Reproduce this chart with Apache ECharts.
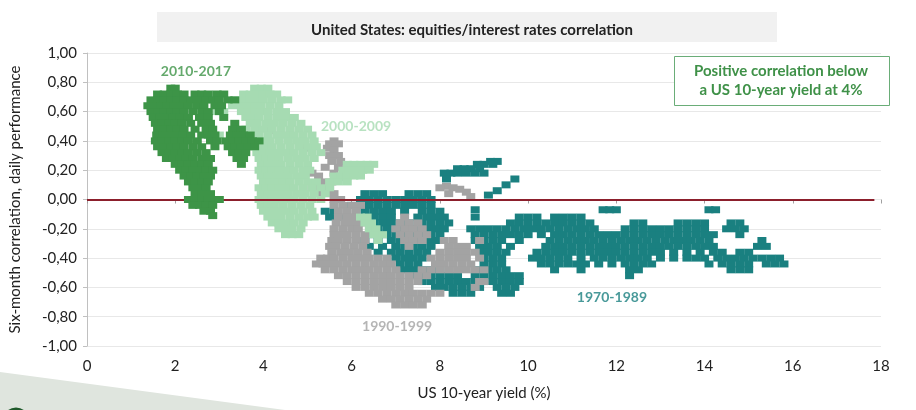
<!DOCTYPE html>
<html>
<head>
<meta charset="utf-8">
<script src="https://cdn.jsdelivr.net/npm/echarts@6/dist/echarts.min.js"></script>
<style>
  html, body { margin: 0; padding: 0; background: #fff; }
  #chart { width: 916px; height: 410px; }
</style>
</head>
<body>
<div id="chart"></div>
<script>
// each row: [correlation, [yields...]]
const rows1970 = [
  [0.26, [9.15, 9.3]], [0.24, [8.85, 9.0, 9.2]], [0.21, [8.4, 8.55, 8.7, 8.9]],
  [0.18, [8.1, 8.25, 8.4, 8.6, 8.8, 9.0]], [0.14, [8.15, 9.7]], [0.10, [9.5]], [0.06, [9.3]], [0.03, [9.1]],
  [0.04, [6.3, 6.5, 6.7, 7.3, 7.5, 7.7]],
  [0.00, [6.2, 6.4, 6.6, 6.8, 7.0, 7.2, 7.4, 7.6, 7.8]],
  [-0.04, [6.0, 6.2, 6.4, 6.6, 6.8, 7.0, 7.2, 7.4, 7.6, 7.8]],
  [-0.07, [11.7, 11.85, 12.0, 14.1, 14.25, 8.8]],
  [-0.08, [5.4, 5.6, 6.3, 6.5, 6.7, 6.9, 7.2, 7.6, 7.8, 8.0]],
  [-0.12, [5.5, 5.7, 6.5, 6.7, 6.9, 7.5, 7.7, 7.9, 8.1, 8.8, 9.8, 10.0, 10.2, 10.6, 10.8, 11.0, 11.2]],
  [-0.16, [6.5, 6.7, 6.9, 7.1, 7.3, 7.6, 7.8, 8.0, 8.2, 9.6, 9.8, 10.0, 10.2, 10.4, 10.6, 10.8, 11.0, 11.2, 11.4, 12.4, 12.6, 13.4, 13.6, 13.8, 14.0, 14.6, 14.8]],
  [-0.20, [6.6, 6.8, 7.0, 7.2, 7.5, 7.7, 7.9, 8.1, 8.7, 8.9, 9.1, 9.3, 9.5, 9.7, 9.9, 10.1, 10.3, 10.5, 10.7, 10.9, 11.1, 11.3, 11.5, 12.2, 12.4, 12.6, 12.8, 13.0, 13.2, 13.4, 13.6, 13.8, 14.0, 14.5, 14.7, 14.9]],
  [-0.24, [6.5, 6.8, 7.0, 7.2, 7.4, 7.6, 7.8, 8.0, 8.8, 9.0, 9.2, 9.4, 9.6, 9.8, 10.0, 10.3, 10.6, 10.8, 11.0, 11.2, 11.4, 11.6, 11.8, 12.0, 12.2, 12.4, 12.6, 12.8, 13.0, 13.2, 13.4, 13.6, 13.8, 14.0, 14.2, 14.8]],
  [-0.28, [6.3, 6.6, 6.9, 7.1, 7.3, 7.5, 7.7, 7.9, 8.8, 9.0, 9.2, 9.4, 9.8, 10.5, 10.7, 10.9, 11.1, 11.3, 11.5, 11.7, 11.9, 12.1, 12.3, 12.5, 12.7, 12.9, 13.1, 13.3, 13.5, 13.7, 13.9, 14.1, 15.3]],
  [-0.32, [6.4, 6.7, 7.0, 7.2, 7.4, 7.6, 7.8, 8.9, 9.1, 9.3, 9.6, 10.4, 10.6, 10.8, 11.0, 11.2, 11.4, 11.6, 11.8, 12.0, 12.2, 12.4, 12.6, 12.8, 13.0, 13.2, 13.4, 13.6, 13.8, 14.0, 14.2, 15.2, 15.4]],
  [-0.36, [6.6, 6.9, 7.1, 7.3, 7.5, 7.7, 8.9, 9.1, 9.3, 9.5, 10.2, 10.4, 10.6, 10.8, 11.0, 11.2, 11.4, 11.6, 11.8, 12.0, 12.2, 12.4, 12.6, 12.8, 13.0, 13.3, 13.6, 13.9, 14.2, 14.4, 14.8, 15.0]],
  [-0.40, [7.0, 7.2, 7.4, 7.6, 9.0, 9.2, 9.4, 10.1, 10.3, 10.5, 10.7, 10.9, 11.2, 11.5, 11.7, 11.9, 12.1, 12.3, 12.5, 12.7, 13.0, 13.3, 13.6, 13.8, 14.0, 14.3, 14.5, 14.7, 14.9, 15.1, 15.3, 15.5, 15.7]],
  [-0.44, [7.1, 7.3, 7.5, 9.0, 9.2, 9.4, 10.3, 10.5, 10.7, 10.9, 11.1, 11.3, 11.6, 11.9, 12.2, 12.4, 12.6, 12.8, 14.1, 14.4, 14.6, 14.8, 15.0, 15.4, 15.6, 15.8]],
  [-0.48, [7.2, 7.4, 7.6, 7.8, 8.0, 8.9, 9.1, 9.3, 9.5, 10.6, 11.2, 12.3, 12.5, 14.6, 14.8, 15.0]],
  [-0.52, [7.4, 7.6, 7.8, 8.0, 8.2, 8.4, 8.8, 9.0, 9.2, 9.4, 9.6, 9.8, 12.3]],
  [-0.56, [7.6, 7.8, 8.0, 8.2, 8.4, 8.6, 8.8, 9.0, 9.2, 9.4, 9.6, 9.8]],
  [-0.60, [7.9, 8.1, 8.3, 8.5, 8.7, 8.9, 9.3, 9.5, 9.7]],
  [-0.64, [8.3, 8.5, 8.7, 9.4, 9.6]]
];

const rows1990 = [
  [0.47, [4.15]], [0.44, [4.35]], [0.40, [5.6]], [0.38, [4.85, 5.5, 5.7]], [0.35, [5.0, 5.45]], [0.34, [5.6]],
  [0.30, [5.5, 5.7]], [0.26, [5.55, 5.75]], [0.22, [5.4, 5.7]], [0.18, [5.1, 5.6]], [0.16, [5.25]], [0.15, [5.75]],
  [0.12, [5.35, 5.55]], [0.09, [8.15]], [0.08, [5.1, 5.3, 5.5, 8.0, 8.3]], [0.07, [8.45]], [0.05, [8.6]],
  [0.04, [5.3, 5.45, 5.6, 8.2]], [0.02, [8.7]], [0.00, [5.6, 5.75]],
  [-0.04, [5.6, 5.8, 6.0, 6.2]],
  [-0.08, [5.7, 5.9, 6.1]],
  [-0.12, [5.7, 5.9, 6.05, 7.2]],
  [-0.16, [5.65, 5.85, 6.0, 6.2, 7.1, 7.3, 7.5]],
  [-0.20, [5.6, 5.8, 6.0, 6.15, 7.0, 7.2, 7.4, 7.6]],
  [-0.24, [5.6, 5.75, 5.9, 6.1, 6.3, 7.1, 7.3, 7.5, 7.7]],
  [-0.28, [5.55, 5.7, 5.9, 6.1, 6.3, 7.2, 7.4, 7.6, 8.1, 8.3, 8.9]],
  [-0.32, [5.5, 5.65, 5.85, 6.05, 6.25, 7.3, 8.2, 8.4, 8.6]],
  [-0.36, [5.55, 5.75, 5.95, 6.15, 6.35, 8.0, 8.2, 8.4, 8.6, 8.8]],
  [-0.40, [5.3, 5.45, 5.6, 5.8, 6.0, 6.2, 6.4, 6.6, 6.8, 7.8, 8.0, 8.2, 8.4, 8.6, 8.9]],
  [-0.44, [5.2, 5.35, 5.5, 5.7, 5.9, 6.1, 6.3, 6.5, 6.7, 6.9, 7.9, 8.1, 8.3, 8.5, 8.7]],
  [-0.48, [5.4, 5.6, 5.8, 6.0, 6.2, 6.4, 6.6, 6.8, 7.0, 7.6, 7.8, 8.0, 8.2, 8.4, 8.6, 8.8, 9.0]],
  [-0.52, [5.7, 5.9, 6.1, 6.3, 6.5, 6.7, 6.9, 7.1, 7.3, 7.5, 7.7]],
  [-0.56, [5.9, 6.1, 6.3, 6.5, 6.7, 6.9, 7.1, 7.3, 7.5, 8.9, 9.0]],
  [-0.60, [6.1, 6.3, 6.5, 6.7, 6.9, 7.1, 7.3, 8.8]],
  [-0.64, [6.4, 6.6, 6.8, 7.0, 7.2, 7.4, 7.6, 7.8, 8.0]],
  [-0.68, [6.7, 6.9, 7.1, 7.3, 7.5, 7.7]],
  [-0.72, [7.0, 7.2, 7.4, 7.6]]
];

const rows2000 = [
  [0.76, [3.8, 3.95, 4.1]],
  [0.72, [3.55, 3.7, 3.85, 4.0, 4.15, 4.3]],
  [0.68, [3.4, 3.55, 3.7, 3.85, 4.0, 4.2, 4.4, 4.55]],
  [0.64, [3.3, 3.5, 3.65, 3.8, 3.95, 4.15, 4.35]],
  [0.60, [2.95, 3.1, 3.5, 3.65, 3.8, 3.95, 4.1, 4.3, 4.5]],
  [0.56, [2.7, 3.6, 3.75, 3.9, 4.1, 4.3, 4.5, 4.7]],
  [0.52, [3.7, 3.85, 4.05, 4.25, 4.45, 4.65, 4.85]],
  [0.48, [3.6, 3.8, 4.0, 4.2, 4.4, 4.6, 4.8, 5.0]],
  [0.44, [2.8, 3.0, 3.7, 3.9, 4.1, 4.3, 4.5, 4.7, 4.9, 5.1]],
  [0.40, [4.0, 4.15, 4.35, 4.55, 4.75, 4.95, 5.15]],
  [0.36, [3.9, 4.05, 4.2, 4.4, 4.6, 4.8, 5.0, 5.2]],
  [0.32, [3.85, 4.0, 4.15, 4.3, 4.5, 4.7, 4.9, 5.1, 5.3]],
  [0.28, [3.9, 4.05, 4.2, 4.35, 4.55, 4.75, 4.95, 5.15]],
  [0.24, [3.95, 4.1, 4.25, 4.4, 4.6, 4.8, 5.0, 5.9, 6.05, 6.2, 6.35, 6.5]],
  [0.20, [3.9, 4.05, 4.2, 4.35, 4.5, 4.7, 4.9, 5.05, 5.8, 5.95, 6.1, 6.25, 6.4]],
  [0.16, [3.95, 4.1, 4.25, 4.4, 4.55, 4.75, 4.95, 5.6, 5.75, 5.9, 6.05, 6.2]],
  [0.12, [4.0, 4.15, 4.3, 4.45, 4.6, 4.8, 5.0, 5.2, 5.5, 5.7, 5.9]],
  [0.08, [3.9, 4.05, 4.2, 4.35, 4.5, 4.7, 4.9, 5.1, 5.3, 5.5]],
  [0.04, [3.95, 4.1, 4.25, 4.4, 4.55, 4.75, 4.95, 5.15, 5.4]],
  [0.00, [3.9, 4.05, 4.2, 4.35, 4.5, 4.7, 4.9, 5.1, 5.3]],
  [-0.04, [3.95, 4.1, 4.25, 4.45, 4.65, 4.85, 5.05]],
  [-0.08, [4.0, 4.15, 4.3, 4.5, 4.7, 4.9, 5.1]],
  [-0.12, [4.1, 4.25, 4.4, 4.6, 4.8, 5.0, 5.15, 6.2, 6.35]],
  [-0.16, [4.2, 4.35, 4.5, 4.7, 4.9, 6.3, 6.45]],
  [-0.20, [4.35, 4.5, 4.65, 4.85, 6.4, 6.55]],
  [-0.24, [4.5, 4.65, 4.8, 6.5, 6.7]],
  [-0.28, [6.6]]
];

const rows2010 = [
  [0.76, [1.9, 2.0]],
  [0.72, [1.6, 1.75, 1.9, 2.05, 2.2, 2.45, 2.6, 2.75, 2.95, 3.1]],
  [0.68, [1.45, 1.6, 1.75, 1.9, 2.05, 2.2, 2.35, 2.55, 2.7, 2.85, 3.0, 3.2, 3.35]],
  [0.64, [1.38, 1.52, 1.67, 1.82, 1.97, 2.12, 2.3, 2.5, 2.65, 2.9, 3.05]],
  [0.60, [1.45, 1.6, 1.75, 1.9, 2.05, 2.2, 2.4, 2.6, 2.75, 3.0]],
  [0.56, [1.5, 1.65, 1.8, 1.95, 2.1, 2.3, 2.55, 2.75, 3.1]],
  [0.52, [1.55, 1.7, 1.85, 2.0, 2.15, 2.35, 2.6, 2.8, 3.35]],
  [0.48, [1.6, 1.75, 1.9, 2.05, 2.2, 2.45, 2.7, 2.85, 3.3, 3.5]],
  [0.44, [1.58, 1.72, 1.87, 2.02, 2.17, 2.35, 2.6, 2.75, 2.9, 3.25, 3.4, 3.55, 3.7]],
  [0.40, [1.55, 1.7, 1.85, 2.0, 2.15, 2.3, 2.5, 2.8, 2.95, 3.15, 3.3, 3.45, 3.6, 3.75, 3.9]],
  [0.36, [1.6, 1.75, 1.9, 2.05, 2.2, 2.4, 2.6, 2.9, 3.2, 3.35, 3.5, 3.65, 3.8]],
  [0.32, [1.7, 1.85, 2.0, 2.15, 2.3, 2.5, 2.7, 3.3, 3.45, 3.6]],
  [0.28, [1.8, 1.95, 2.1, 2.25, 2.4, 2.6, 2.8, 3.4, 3.55]],
  [0.24, [2.0, 2.15, 2.3, 2.45, 2.6, 2.75, 3.5]],
  [0.20, [2.1, 2.25, 2.4, 2.55, 2.7, 2.85]],
  [0.16, [2.2, 2.35, 2.5, 2.65, 2.8]],
  [0.12, [2.3, 2.45, 2.6, 2.75]],
  [0.08, [2.4, 2.55, 2.7]],
  [0.04, [2.45, 2.6, 2.8]],
  [0.00, [2.3, 2.45, 2.6, 2.75, 2.9, 3.0]],
  [-0.04, [2.4, 2.55, 2.7, 2.85]],
  [-0.08, [2.65, 2.8]],
  [-0.11, [2.85]]
];

const periodNames = ['1970-1989', '1990-1999', '2000-2009', '2010-2017'];
const periodColors = ['#1a8080', '#a3a3a3', '#a6dbb2', '#3d9447'];
const labelPos = [[11.9, -0.666], [7.03, -0.864], [6.1, 0.495], [2.47, 0.877]];

function toPoints(rows) {
  const out = [];
  rows.forEach(r => r[1].forEach(x => out.push([x, r[0]])));
  return out;
}

const allRows = [rows1970, rows1990, rows2000, rows2010];
const font = 'Lato, "Open Sans", sans-serif';

let chartDom = document.getElementById('chart');
let myChart = echarts.init(chartDom);

let series = allRows.map((rows, i) => ({
  name: periodNames[i],
  type: 'scatter',
  symbol: 'rect',
  symbolSize: [9, 7],
  data: toPoints(rows),
  itemStyle: { color: periodColors[i], opacity: 1 },
  z: 2 + i
}));

// period labels
series.push({
  type: 'scatter',
  symbolSize: 0,
  z: 10,
  data: labelPos.map((p, i) => ({
    value: p,
    label: {
      show: true,
      formatter: periodNames[i],
      position: 'inside',
      color: periodColors[i],
      fontWeight: 'bold',
      fontSize: 14,
      fontFamily: font
    }
  }))
});

// zero line
series.push({
  type: 'line',
  data: [],
  markLine: {
    silent: true,
    symbol: 'none',
    label: { show: false },
    lineStyle: { color: '#8c1f2c', width: 2, type: 'solid' },
    data: [[{ coord: [0, 0] }, { coord: [17.85, 0] }]]
  }
});

let option = {
  animation: false,
  grid: { left: 87, right: 35, top: 53, bottom: 64 },
  xAxis: [{
    type: 'value',
    min: 0, max: 18, interval: 2,
    axisLine: { show: false, onZero: false },
    axisTick: { show: false },
    splitLine: { show: false },
    axisLabel: { color: '#222', fontSize: 15, fontFamily: font, margin: 13 },
    name: 'US 10-year yield (%)',
    nameLocation: 'middle',
    nameGap: 40,
    nameTextStyle: { color: '#222', fontSize: 15, fontFamily: font }
  }, {
    type: 'value',
    min: 0, max: 18, interval: 2,
    position: 'bottom',
    axisLine: { show: false, onZero: true },
    axisTick: { show: true, length: 4, inside: false, lineStyle: { color: '#a0a0a0' } },
    axisLabel: { show: false },
    splitLine: { show: false }
  }],
  yAxis: {
    type: 'value',
    min: -1, max: 1, interval: 0.2,
    axisLine: { show: true, lineStyle: { color: '#c0c0c0' } },
    axisTick: { show: true, length: 4, lineStyle: { color: '#c0c0c0' } },
    splitLine: { lineStyle: { color: '#e8e8e8' } },
    axisLabel: {
      color: '#222', fontSize: 15, fontFamily: font, margin: 10,
      formatter: v => v.toFixed(2).replace('.', ',')
    },
    name: 'Six-month correlation, daily performance',
    nameLocation: 'middle',
    nameGap: 64,
    nameTextStyle: { color: '#222', fontSize: 15, fontFamily: font }
  },
  title: {
    text: 'United States: equities/interest rates correlation',
    left: 467, top: 18, textAlign: 'center',
    textStyle: { fontSize: 15, fontWeight: 'bold', color: '#222', fontFamily: font }
  },
  graphic: [
    { type: 'rect', left: 157, top: 12, z: -1, shape: { width: 620, height: 30 }, style: { fill: '#f1f1f1' } },
    { type: 'rect', left: 674, top: 56, z: 5, shape: { width: 215, height: 49 }, style: { fill: '#fff', stroke: '#6aad78', lineWidth: 1 } },
    {
      type: 'text', z: 6, x: 781, y: 62,
      style: {
        text: 'Positive correlation below\na US 10-year yield at 4%',
        textAlign: 'center',
        fill: '#3f9148', font: 'bold 15px ' + font, lineHeight: 19
      }
    },
    { type: 'polygon', z: -2, shape: { points: [[0, 372], [285, 410], [0, 410]] }, style: { fill: '#dfe5de' } },
    { type: 'circle', z: -1, shape: { cx: 16, cy: 421, r: 12 }, style: { fill: 'none', stroke: '#1f5a2b', lineWidth: 3 } }
  ],
  series: series
};

option && myChart.setOption(option);
</script>
</body>
</html>
